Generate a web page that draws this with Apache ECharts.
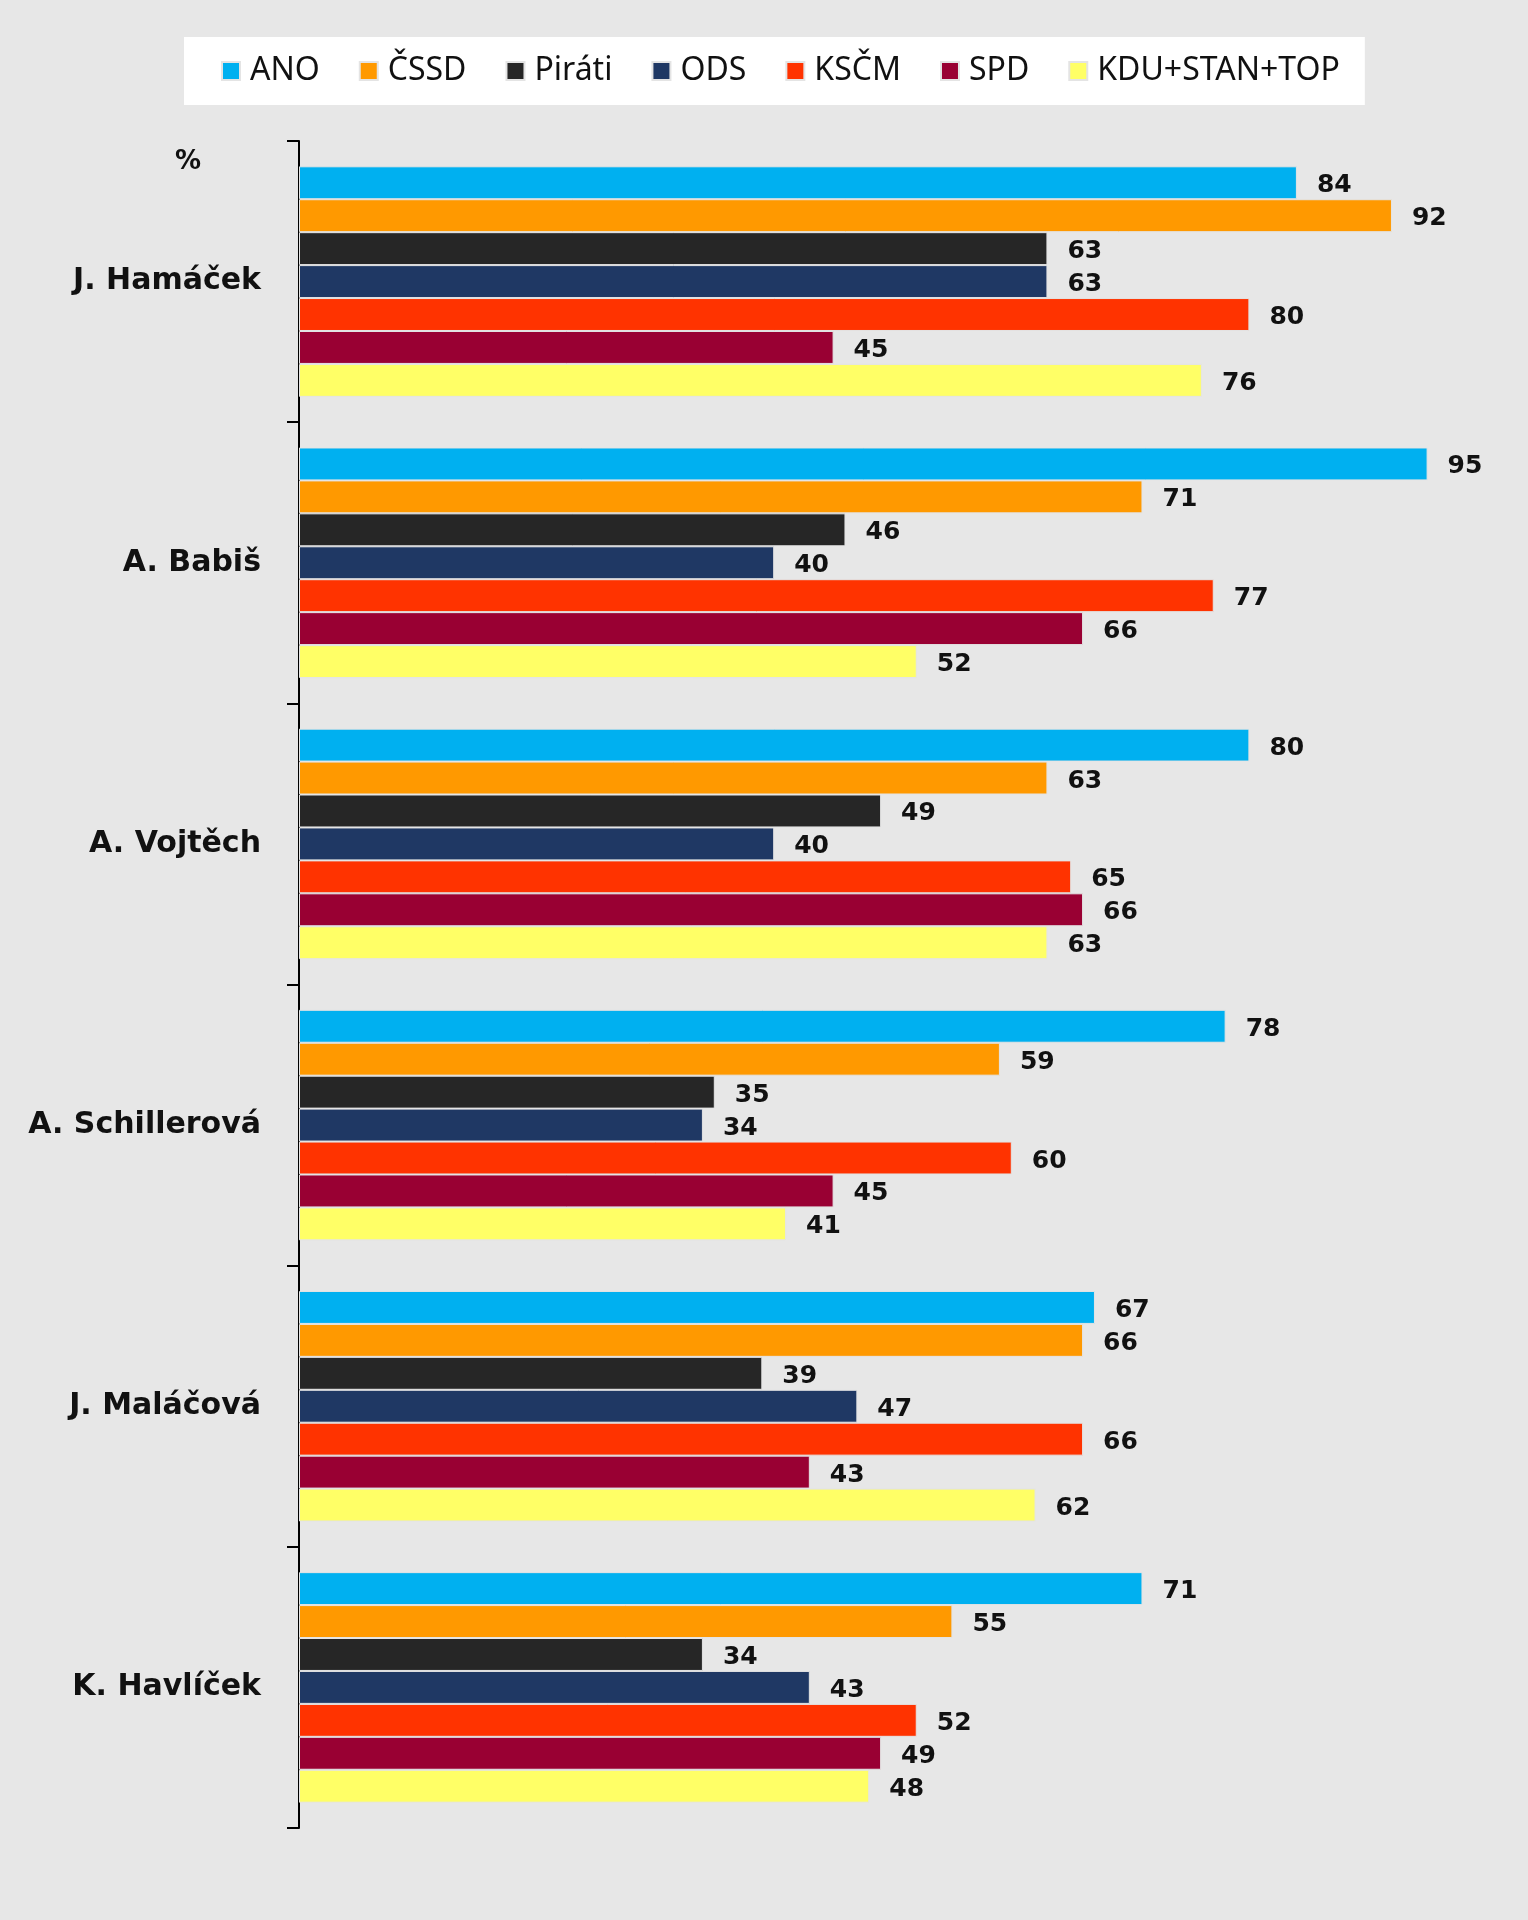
<!DOCTYPE html>
<html>
<head>
<meta charset="utf-8">
<script src="https://cdn.jsdelivr.net/npm/echarts@6/dist/echarts.min.js"></script>
<style>
  html, body { margin: 0; padding: 0; background: #e7e7e7; }
  #chart { width: 1528px; height: 1920px; }
</style>
</head>
<body>
<div id="chart"></div>
<script>
// data
var people = ['J. Hamáček', 'A. Babiš', 'A. Vojtěch', 'A. Schillerová', 'J. Maláčová', 'K. Havlíček'];
var parties = ['ANO', 'ČSSD', 'Piráti', 'ODS', 'KSČM', 'SPD', 'KDU+STAN+TOP'];
var colors = ['#00b0f0', '#ff9900', '#262626', '#1f3864', '#ff3300', '#990033', '#ffff66'];

var ano    = [84, 95, 80, 78, 67, 71];
var cssd   = [92, 71, 63, 59, 66, 55];
var pirati = [63, 46, 49, 35, 39, 34];
var ods    = [63, 40, 40, 34, 47, 43];
var kscm   = [80, 77, 65, 60, 66, 52];
var spd    = [45, 66, 66, 45, 43, 49];
var kdu    = [76, 52, 63, 41, 62, 48];
var values = [ano, cssd, pirati, ods, kscm, spd, kdu];

var chart = echarts.init(document.getElementById('chart'));

var series = parties.map(function (p, i) {
    return {
        name: p,
        type: 'bar',
        data: values[i],
        barGap: '0%',
        barCategoryGap: '18%',
        itemStyle: { color: colors[i], borderColor: '#e4e4e4', borderWidth: 1 },
        label: {
            show: true,
            position: 'right',
            distance: 20,
            offset: [0, 3],
            color: '#111',
            fontFamily: 'DejaVu Sans',
            fontWeight: 'bold',
            fontSize: 25
        }
    };
});

chart.setOption({
    backgroundColor: '#e7e7e7',
    animation: false,
    color: colors,
    title: {
        text: '%',
        left: 170,
        top: 144,
        textStyle: { fontFamily: 'DejaVu Sans', fontWeight: 'bold', fontSize: 26, color: '#111' }
    },
    legend: {
        data: parties,
        left: 184,
        top: 37,
        backgroundColor: '#ffffff',
        padding: [18, 25, 18, 37],
        itemGap: 39,
        itemWidth: 18,
        itemHeight: 18,
        icon: 'rect',
        textStyle: { fontFamily: 'Noto Sans', fontSize: 32, color: '#111', padding: [0, 0, 0, 5] }
    },
    grid: { left: 299, right: 41, top: 141, bottom: 92 },
    xAxis: {
        type: 'value',
        min: 0,
        max: 100,
        show: false
    },
    yAxis: {
        type: 'category',
        data: people,
        inverse: true,
        axisLine: { show: true, lineStyle: { color: '#000', width: 2 } },
        axisTick: { show: true, length: 12, lineStyle: { color: '#000', width: 2 } },
        axisLabel: {
            margin: 38,
            fontFamily: 'DejaVu Sans',
            fontWeight: 'bold',
            fontSize: 30,
            color: '#111'
        }
    },
    series: series
});
</script>
</body>
</html>
